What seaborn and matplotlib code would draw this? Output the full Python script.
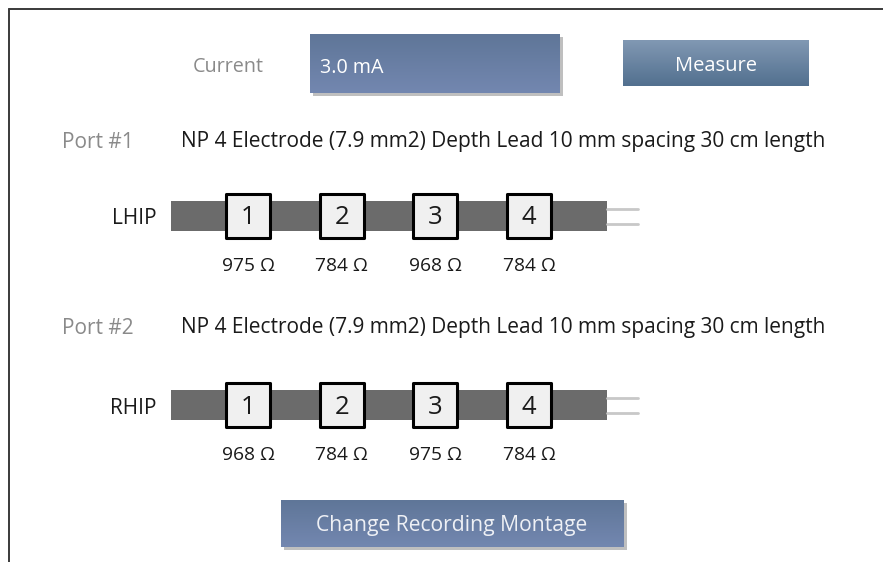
import matplotlib
matplotlib.use("Agg")
import matplotlib.pyplot as plt
import numpy as np
import pandas as pd
import seaborn as sns
from matplotlib.patches import Rectangle

# values
current_text = "3.0 mA"
lead_desc = "NP 4 Electrode (7.9 mm2) Depth Lead 10 mm spacing 30 cm length"
ports = ["Port #1", "Port #2"]
leads = ["LHIP", "RHIP"]
contacts = [1, 2, 3, 4]
imp_lhip = [975, 784, 968, 784]
imp_rhip = [968, 784, 975, 784]

sns.set_theme(style="white")
plt.rcParams["font.family"] = ["Open Sans", "DejaVu Sans"]

fig = plt.figure(figsize=(8.83, 5.62), dpi=100)
ax = fig.add_axes([0, 0, 1, 1])
ax.set_xlim(0, 883)
ax.set_ylim(562, 0)
ax.axis("off")

# window frame (top + left edge only)
ax.plot([9, 883], [9, 9], color="#3a3a3a", lw=1.4)
ax.plot([9, 9], [9, 562], color="#3a3a3a", lw=1.4)


def button(x0, y0, x1, y1, top, bottom, shadow=True):
    if shadow:
        ax.add_patch(Rectangle((x0 + 3, y0 + 3), x1 - x0, y1 - y0,
                               color="#000000", alpha=0.25, lw=0, zorder=1))
    grad = np.linspace(0, 1, 64)[:, None]
    c0 = np.array(matplotlib.colors.to_rgb(top))
    c1 = np.array(matplotlib.colors.to_rgb(bottom))
    img = c0[None, None, :] * (1 - grad[..., None]) + c1[None, None, :] * grad[..., None]
    ax.imshow(img, extent=(x0, x1, y1, y0), aspect="auto", zorder=2,
              interpolation="bilinear")


FS = 15

# top row: current + measure
ax.text(228, 67, "Current", color="#8a8a8a", fontsize=14.2, ha="center", va="center")
button(310, 34, 560, 93, "#5f7698", "#7387b0")
ax.text(320, 68, current_text, color="white", fontsize=14.2, ha="left", va="center", zorder=3)
button(623, 40, 809, 86, "#8198b3", "#52708f", shadow=False)
ax.text(716, 66, "Measure", color="white", fontsize=14.5, ha="center", va="center", zorder=3)

# port rows
port_y = [141, 327]
lead_y = [216, 405]
imps = [imp_lhip, imp_rhip]
first_x, step = 248, 93.7
for port, lead, py, ly, imp in zip(ports, leads, port_y, lead_y, imps):
    ax.text(62, py + 1, port, color="#8a8a8a", fontsize=FS, ha="left", va="center")
    ax.text(181, py + 1, lead_desc, color="#1a1a1a", fontsize=FS, ha="left", va="center")
    ax.text(157, ly + 3, lead, color="#1a1a1a", fontsize=FS, ha="right", va="center")
    # lead shaft and trailing wires
    ax.add_patch(Rectangle((171, ly - 15), 436, 30, color="#6b6b6b", lw=0, zorder=1))
    for dy in (-7, 8):
        ax.plot([607, 638], [ly + dy, ly + dy], color="#c8c8c8", lw=2, zorder=1)
    df = pd.DataFrame({"contact": contacts, "imp": imp})
    df["x"] = first_x + (df["contact"] - 1) * step
    df["y"] = ly
    sns.scatterplot(data=df, x="x", y="y", marker="s", s=31 ** 2, color="#f0f0f0",
                    edgecolor="black", linewidth=2.2, ax=ax, zorder=3, legend=False)
    for _, r in df.iterrows():
        ax.text(r["x"], ly + 2, str(int(r["contact"])), color="#1a1a1a",
                fontsize=18.5, ha="center", va="center", zorder=4)
        ax.text(r["x"], ly + 50, f"{int(r['imp'])} Ω", color="#1a1a1a",
                fontsize=13.8, ha="center", va="center", zorder=4)

ax.set_xlim(0, 883)
ax.set_ylim(562, 0)

# bottom button
button(281, 500, 624, 547, "#5f7698", "#7387b0")
ax.text(452, 526, "Change Recording Montage", color="#eef0f5", fontsize=15.2,
        ha="center", va="center", zorder=3)

fig.savefig("out.png", dpi=100)
